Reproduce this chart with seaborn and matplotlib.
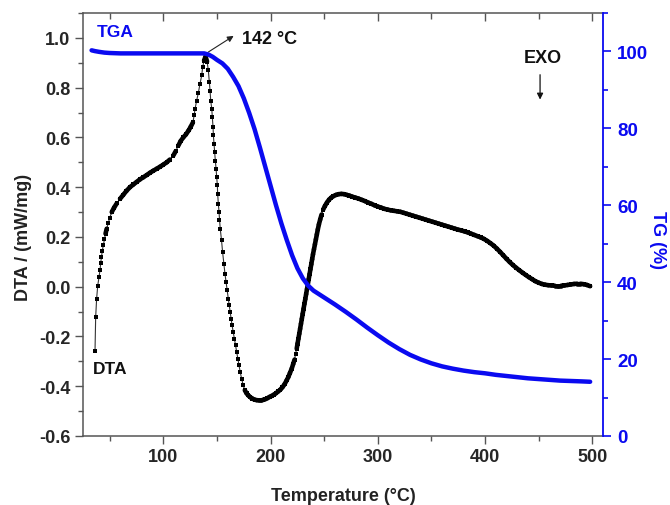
import matplotlib
matplotlib.use("Agg")
import matplotlib.pyplot as plt
import seaborn as sns
import pandas as pd
import numpy as np
from matplotlib.collections import LineCollection
from matplotlib.ticker import MultipleLocator

# ---------------- data ----------------
dta_temp = [36.2, 36.8, 37.7, 38.7, 39.9, 40.9, 41.5, 42.2, 43.0, 43.9, 45.0, 46.0, 47.1,
            48.5, 50.0, 51.8, 54.0, 56.5, 59.5, 62.5, 65.5, 68.8, 72.0, 75.0, 78.0, 81.3,
            84.5, 87.5, 90.5, 93.7, 96.8, 100.0, 103.1, 106.0, 109.2, 111.5, 113.9, 116.0,
            118.5, 121.0, 123.5, 125.5, 127.5, 128.7, 129.5, 131.0, 132.6, 134.1, 135.7,
            136.6, 137.9, 139.3, 140.7, 141.9, 142.8, 143.5, 144.1, 145.1, 145.6, 146.3,
            146.6, 147.2, 147.8, 148.4, 149.1, 149.7, 150.3, 150.6, 151.2, 151.9, 152.3,
            153.0, 154.2, 155.2, 156.4, 157.4, 158.4, 159.5, 160.5, 161.4, 162.2, 163.1,
            164.0, 165.1, 166.1, 167.3, 168.4, 169.4, 170.5, 171.6, 172.9, 174.4, 175.9,
            177.5, 179.2, 181.0, 183.0, 185.0, 187.0, 189.0, 191.0, 193.0, 195.0, 197.0,
            199.0, 201.0, 203.0, 205.0, 207.0, 209.0, 211.0, 213.0, 215.0, 216.5, 218.0,
            219.7, 221.0, 222.3, 223.3, 224.3, 225.1, 225.9, 226.7, 227.5, 228.3, 229.1,
            229.9, 230.7, 231.5, 232.3, 233.1, 233.9, 234.7, 235.5, 236.3, 237.1, 237.9,
            238.7, 239.5, 240.4, 241.3, 242.2, 243.1, 244.0, 245.0, 246.2, 247.5, 249.0,
            250.7, 252.5, 254.5, 256.5, 258.5, 261.0, 263.5, 266.0, 268.5, 271.0, 273.5,
            276.0, 279.0, 282.0, 285.0, 288.0, 291.0, 294.0, 297.0, 300.0, 303.0, 306.0,
            309.0, 312.0, 315.0, 318.0, 321.0, 324.0, 327.0, 330.0, 333.0, 336.0, 339.0,
            342.0, 345.0, 348.0, 351.0, 354.0, 357.0, 360.0, 363.0, 366.0, 369.0, 372.0,
            375.0, 378.0, 381.0, 384.0, 387.0, 390.0, 393.0, 396.0, 399.0, 402.0, 405.0,
            408.0, 411.0, 414.0, 417.0, 420.0, 423.0, 426.0, 429.0, 432.0, 435.0, 438.0,
            441.0, 444.0, 447.0, 450.0, 453.0, 456.0, 459.0, 462.0, 465.0, 468.0, 471.0,
            474.0, 477.0, 480.0, 483.0, 486.0, 489.0, 492.0, 495.0, 498.0]
dta_value = [-0.257, -0.123, -0.048, 0.003, 0.040, 0.068, 0.096, 0.120, 0.145, 0.166, 0.190,
             0.213, 0.233, 0.255, 0.278, 0.300, 0.318, 0.335, 0.353, 0.369, 0.385, 0.400,
             0.411, 0.421, 0.431, 0.440, 0.449, 0.458, 0.466, 0.474, 0.482, 0.491, 0.500,
             0.511, 0.527, 0.545, 0.567, 0.585, 0.600, 0.612, 0.628, 0.643, 0.660, 0.690,
             0.715, 0.748, 0.780, 0.815, 0.849, 0.882, 0.909, 0.925, 0.905, 0.869, 0.822,
             0.788, 0.748, 0.715, 0.681, 0.641, 0.608, 0.574, 0.541, 0.507, 0.474, 0.440,
             0.407, 0.373, 0.333, 0.300, 0.270, 0.233, 0.186, 0.139, 0.092, 0.052, 0.019,
             -0.015, -0.048, -0.075, -0.102, -0.129, -0.155, -0.182, -0.209, -0.236, -0.262,
             -0.289, -0.316, -0.343, -0.369, -0.396, -0.416, -0.428, -0.437, -0.444, -0.450,
             -0.454, -0.456, -0.457, -0.457, -0.455, -0.452, -0.448, -0.443, -0.439, -0.434,
             -0.428, -0.421, -0.414, -0.404, -0.392, -0.376, -0.363, -0.347, -0.329, -0.311,
             -0.293, -0.270, -0.249, -0.229, -0.209, -0.189, -0.169, -0.149, -0.129, -0.109,
             -0.089, -0.069, -0.050, -0.030, -0.010, 0.010, 0.030, 0.050, 0.070, 0.090,
             0.110, 0.130, 0.150, 0.170, 0.190, 0.210, 0.230, 0.250, 0.270, 0.290, 0.310,
             0.325, 0.338, 0.350, 0.358, 0.364, 0.369, 0.372, 0.373, 0.372, 0.369, 0.366,
             0.362, 0.358, 0.354, 0.349, 0.344, 0.338, 0.333, 0.327, 0.322, 0.318, 0.313,
             0.310, 0.307, 0.305, 0.303, 0.301, 0.297, 0.293, 0.289, 0.285, 0.281, 0.277,
             0.273, 0.269, 0.265, 0.261, 0.257, 0.253, 0.249, 0.245, 0.241, 0.237, 0.233,
             0.229, 0.226, 0.222, 0.218, 0.213, 0.208, 0.203, 0.198, 0.192, 0.184, 0.175,
             0.165, 0.153, 0.140, 0.126, 0.112, 0.099, 0.087, 0.076, 0.066, 0.056, 0.047,
             0.038, 0.030, 0.022, 0.016, 0.011, 0.008, 0.006, 0.005, 0.004, 0.004, 0.004,
             0.005, 0.007, 0.009, 0.011, 0.012, 0.012, 0.010, 0.007, 0.002]

tga_temp = [33, 36, 40, 45, 50, 60, 70, 80, 90, 100, 110, 120, 130, 138, 142, 146, 150, 155,
            160, 165, 170, 175, 180, 185, 190, 195, 200, 205, 210, 215, 220, 225, 230, 235,
            240, 245, 250, 255, 260, 270, 280, 290, 300, 310, 320, 330, 340, 350, 360, 370,
            380, 390, 400, 410, 420, 430, 440, 450, 460, 470, 480, 490, 498]
tga_value = [100.3, 100.1, 99.9, 99.7, 99.6, 99.5, 99.5, 99.5, 99.5, 99.5, 99.5, 99.5, 99.5,
             99.5, 99.2, 98.6, 97.8, 96.9, 95.5, 93.4, 91.0, 87.8, 84.0, 79.8, 75.0, 70.0,
             65.0, 60.0, 55.3, 51.0, 47.0, 43.6, 41.0, 39.1, 37.8, 36.9, 36.0, 35.1, 34.2,
             32.3, 30.3, 28.2, 26.2, 24.3, 22.6, 21.1, 19.9, 18.9, 18.1, 17.5, 17.0, 16.6,
             16.3, 15.9, 15.6, 15.3, 15.0, 14.8, 14.6, 14.4, 14.3, 14.2, 14.1]

x_ticks = [100, 200, 300, 400, 500]
dta_ticks = [-0.6, -0.4, -0.2, 0.0, 0.2, 0.4, 0.6, 0.8, 1.0]
tg_ticks = [0, 20, 40, 60, 80, 100]

# ---------------- style ----------------
sns.set_theme(style="white")
plt.rcParams['font.family'] = ['Liberation Sans', 'DejaVu Sans']
plt.rcParams['font.weight'] = 'bold'

BLUE = '#0a0af0'
FRAME = '#555555'
FS = 13

fig = plt.figure(figsize=(6.7, 5.06), dpi=100)
ax = fig.add_axes([0.1239, 0.1364, 0.7761, 0.8359])
ax2 = ax.twinx()

ax.set_xlim(25, 510)
ax.set_ylim(-0.6, 1.1)
ax2.set_ylim(0, 110)

dta_df = pd.DataFrame({'T': dta_temp, 'DTA': dta_value})
tga_df = pd.DataFrame({'T': tga_temp, 'TG': tga_value})

# DTA: square markers joined by a thin line (seaborn)
sns.lineplot(data=dta_df, x='T', y='DTA', ax=ax, color='#333333', linewidth=0.8,
             marker='s', markersize=2.9, markeredgewidth=0, markerfacecolor='black',
             sort=False, zorder=3)
# where markers lie closer than their own size they merge into a solid band
pts = ax.transData.transform(dta_df[['T', 'DTA']].to_numpy())
step = np.hypot(*np.diff(pts, axis=0).T)
xy = dta_df[['T', 'DTA']].to_numpy()
segs = np.stack([xy[:-1], xy[1:]], axis=1)[step < 5.2]
band = LineCollection(segs, colors='black', linewidths=3.3, capstyle='round',
                      joinstyle='round', zorder=3)
ax.add_collection(band)

sns.lineplot(data=tga_df, x='T', y='TG', ax=ax2, color=BLUE, linewidth=3.2,
             sort=False, zorder=2)

ax.set_xlim(25, 510)
ax.set_ylim(-0.6, 1.1)
ax2.set_ylim(0, 110)

ax.set_xticks(x_ticks)
ax.set_yticks(dta_ticks)
ax.set_yticklabels([f"{t:.1f}" for t in dta_ticks])
ax2.set_yticks(tg_ticks)
ax.xaxis.set_minor_locator(MultipleLocator(50))
ax.yaxis.set_minor_locator(MultipleLocator(0.1))
ax2.yaxis.set_minor_locator(MultipleLocator(10))

for sp in ['left', 'bottom', 'top']:
    ax.spines[sp].set_color(FRAME)
    ax.spines[sp].set_linewidth(1.1)
ax.spines['right'].set_visible(False)
for sp in ['left', 'bottom', 'top']:
    ax2.spines[sp].set_visible(False)
ax2.spines['right'].set_color(BLUE)
ax2.spines['right'].set_linewidth(1.3)

ax.tick_params(axis='both', which='major', length=6, width=1.0, color=FRAME,
               labelsize=FS, direction='out', bottom=True, left=True, pad=3)
ax.tick_params(axis='both', which='minor', length=3.5, width=1.0, color=FRAME,
               direction='out', bottom=True, left=True)
ax.tick_params(axis='x', which='both', top=False)
# top ticks pointing inward
axt = ax.secondary_xaxis('top')
axt.set_xticks(x_ticks)
axt.xaxis.set_minor_locator(MultipleLocator(50))
axt.tick_params(axis='x', which='major', direction='in', length=6, width=1.0,
                color=FRAME, labeltop=False)
axt.tick_params(axis='x', which='minor', direction='in', length=4, width=1.0,
                color=FRAME)
axt.spines['top'].set_visible(False)

ax2.tick_params(axis='y', which='major', length=6, width=1.2, color=BLUE,
                labelcolor=BLUE, labelsize=13.5, direction='out', pad=4)
ax2.tick_params(axis='y', which='minor', length=3.5, width=1.2, color=BLUE,
                direction='out')

for lab in ax.get_xticklabels() + ax.get_yticklabels() + ax2.get_yticklabels():
    lab.set_fontweight('bold')

ax.set_xlabel('Temperature (°C)', fontsize=FS, fontweight='bold', color='#222222')
ax.set_ylabel('DTA / (mW/mg)', fontsize=FS, fontweight='bold', color='#222222')
ax2.set_ylabel('TG (%)', fontsize=FS, fontweight='bold', color=BLUE, rotation=270)
ax.xaxis.set_label_coords(0.5, -0.120)
ax.yaxis.set_label_coords(-0.099, 0.472)
ax2.yaxis.set_label_coords(1.122, 0.466)

# annotations
ax.text(37.5, 1.025, 'TGA', color=BLUE, fontsize=12.5, fontweight='bold',
        ha='left', va='center')
ax.annotate('', xy=(165.5, 1.008), xytext=(141.8, 0.943),
            arrowprops=dict(arrowstyle='-|>', color='#222222', lw=0.8,
                            mutation_scale=9, shrinkA=0, shrinkB=0))
ax.text(173.0, 0.996, '142 °C', color='#111111', fontsize=FS, fontweight='bold',
        ha='left', va='center')
ax.text(454.1, 0.922, 'EXO', color='#111111', fontsize=FS, fontweight='bold',
        ha='center', va='center')
ax.annotate('', xy=(451.3, 0.752), xytext=(451.3, 0.852),
            arrowprops=dict(arrowstyle='-|>', color='#111111', lw=0.9,
                            mutation_scale=9, shrinkA=0, shrinkB=0))
ax.text(50.2, -0.327, 'DTA', color='#111111', fontsize=12.5, fontweight='bold',
        ha='center', va='center')

fig.savefig('out.png', dpi=100)
